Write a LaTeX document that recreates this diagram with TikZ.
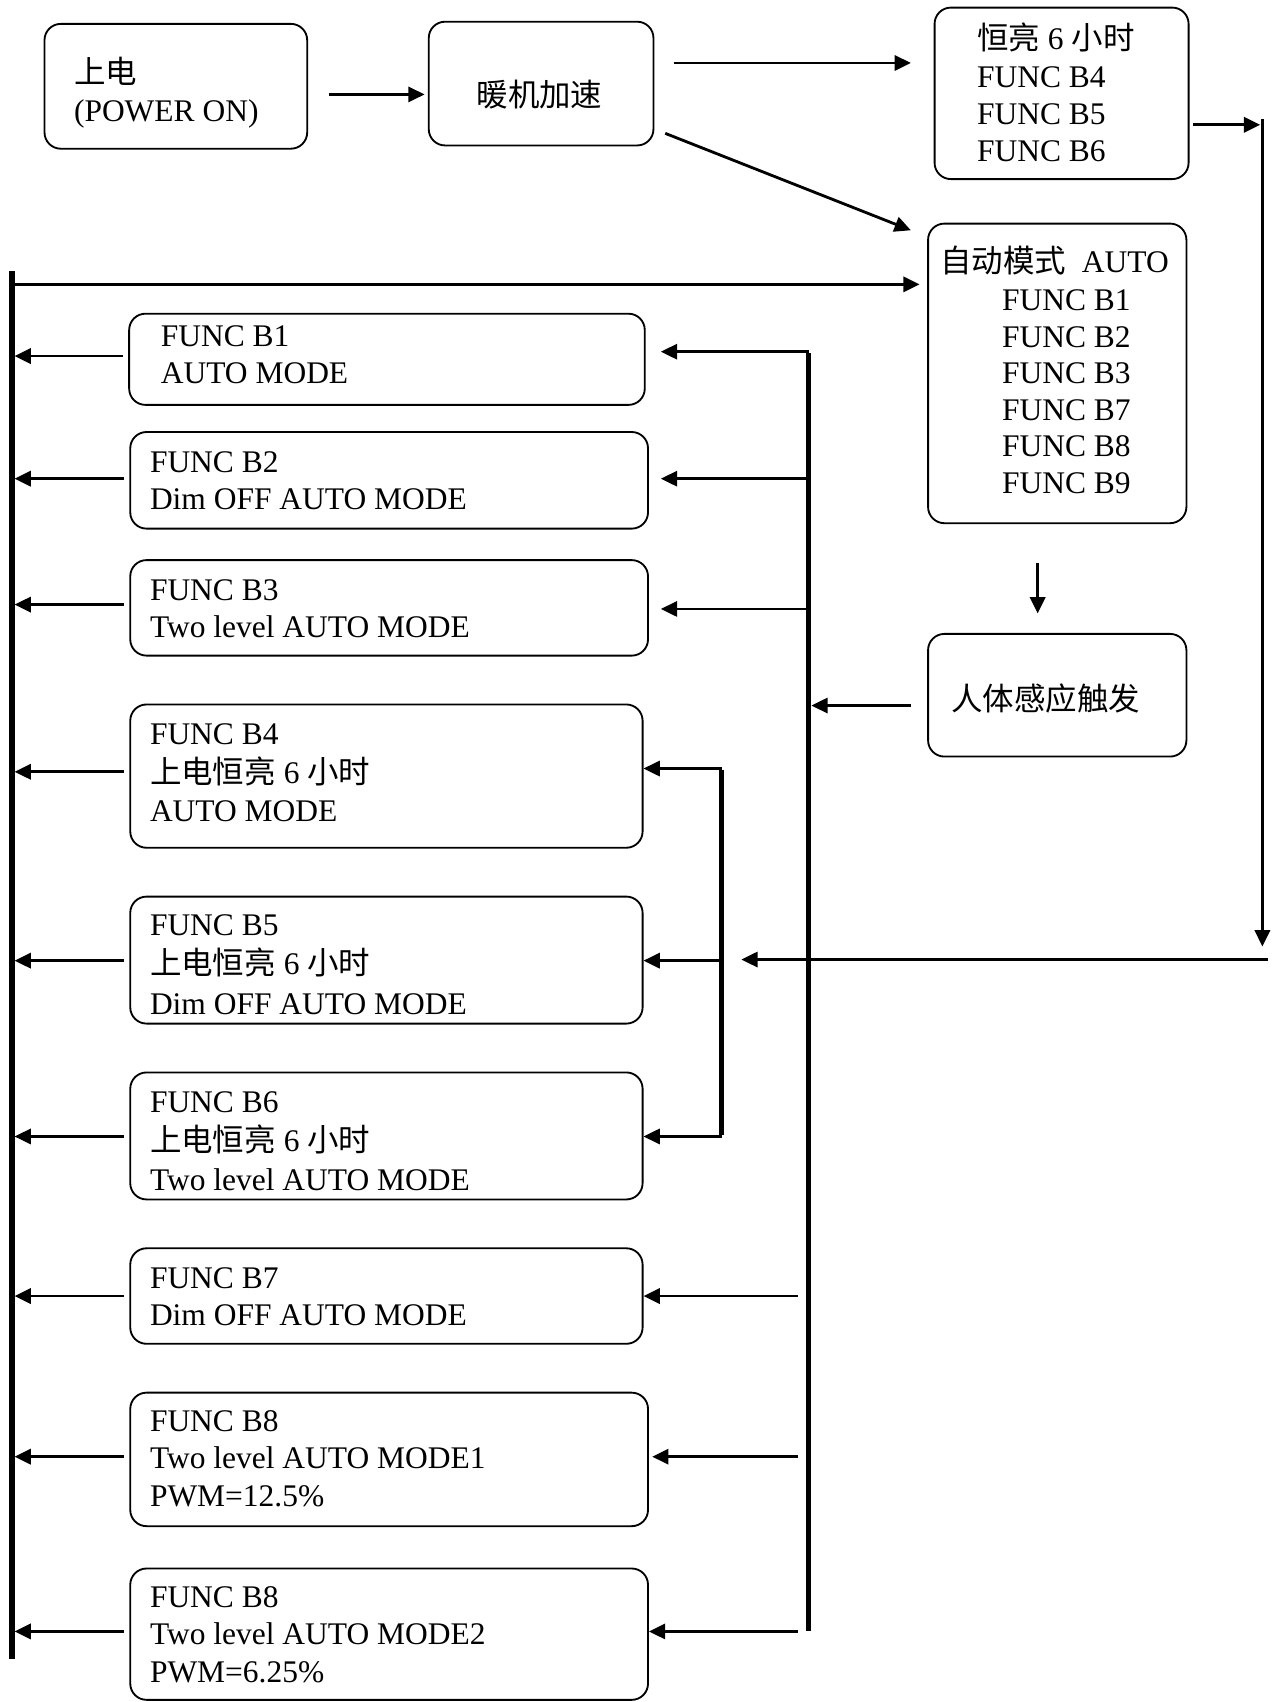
\documentclass[tikz,border=0pt]{standalone}
\usepackage{fontspec}
\setmainfont{Liberation Serif}
\newfontfamily\cjk{Noto Sans CJK SC}
\usetikzlibrary{arrows.meta}
\newcommand\mkbox[5]{\node[box, minimum width={(#4)-(#2)}, minimum height={(#5)-(#3)}] (#1) at ({((#2)+(#4))/2},{((#3)+(#5))/2}) {};}
\newcommand\txtline[4]{\node[txt] (#1) at (#2,#3) {#4};}
\begin{document}
\begin{tikzpicture}[x=1pt,y=-1pt,
  box/.style={draw, line width=1.7pt, rounded corners=15pt, inner sep=0pt},
  txt/.style={anchor=base west, inner sep=0pt, font=\fontsize{29}{34}\selectfont},
  arr/.style={line width=2.6pt, -{Triangle[length=15pt,width=14pt]}},
  bus/.style={line width=4.8pt}]
\useasboundingbox (0,0) rectangle (1182,1568);

% boxes
\mkbox{a}{41}{22}{283}{137}
\mkbox{b}{395}{20}{602}{134}
\mkbox{c}{861}{7}{1095}{165}
\mkbox{d}{855}{206}{1093}{482}
\mkbox{e}{855}{584}{1093}{697}
\mkbox{b1}{119}{289}{594}{373}
\mkbox{b2}{120}{398}{597}{487}
\mkbox{b3}{120}{516}{597}{604}
\mkbox{b4}{120}{649}{592}{781}
\mkbox{b5}{120}{826}{592}{943}
\mkbox{b6}{120}{988}{592}{1105}
\mkbox{b7}{120}{1150}{592}{1238}
\mkbox{b8}{120}{1283}{597}{1406}
\mkbox{b9}{120}{1445}{597}{1566}

% texts
\txtline{at1}{68}{77}{\cjk 上电}
\txtline{at2}{68}{112}{(POWER ON)}
\node[txt, anchor=base] (bt) at (497,98) {\cjk 暖机加速};
\txtline{ct1}{900}{46}{{\cjk 恒亮} 6 {\cjk 小时}}
\txtline{ct2}{900}{81}{FUNC B4}
\txtline{ct3}{900}{115}{FUNC B5}
\txtline{ct4}{900}{149}{FUNC B6}
\txtline{dt1}{866}{251}{{\cjk 自动模式}\ \ AUTO}
\txtline{dt2}{923}{286}{FUNC B1}
\txtline{dt3}{923}{320}{FUNC B2}
\txtline{dt4}{923}{353}{FUNC B3}
\txtline{dt5}{923}{387}{FUNC B7}
\txtline{dt6}{923}{421}{FUNC B8}
\txtline{dt7}{923}{455}{FUNC B9}
\txtline{et}{876}{655}{\cjk 人体感应触发}
\txtline{b1a}{148}{319}{FUNC B1}
\txtline{b1b}{148}{353}{AUTO MODE}
\txtline{b2a}{138}{435}{FUNC B2}
\txtline{b2b}{138}{469}{Dim OFF AUTO MODE}
\txtline{b3a}{138}{553}{FUNC B3}
\txtline{b3b}{138}{587}{Two level AUTO MODE}
\txtline{b4a}{138}{686}{FUNC B4}
\txtline{b4b}{138}{722}{{\cjk 上电恒亮} 6 {\cjk 小时}}
\txtline{b4c}{138}{757}{AUTO MODE}
\txtline{b5a}{138}{862}{FUNC B5}
\txtline{b5b}{138}{898}{{\cjk 上电恒亮} 6 {\cjk 小时}}
\txtline{b5c}{138}{935}{Dim OFF AUTO MODE}
\txtline{b6a}{138}{1025}{FUNC B6}
\txtline{b6b}{138}{1061}{{\cjk 上电恒亮} 6 {\cjk 小时}}
\txtline{b6c}{138}{1097}{Two level AUTO MODE}
\txtline{b7a}{138}{1187}{FUNC B7}
\txtline{b7b}{138}{1221}{Dim OFF AUTO MODE}
\txtline{b8a}{138}{1319}{FUNC B8}
\txtline{b8b}{138}{1353}{Two level AUTO MODE1}
\txtline{b8c}{138}{1388}{PWM=12.5\%}
\txtline{b9a}{138}{1481}{FUNC B8}
\txtline{b9b}{138}{1515}{Two level AUTO MODE2}
\txtline{b9c}{138}{1550}{PWM=6.25\%}

% top connectors
\coordinate (yab) at (0,87);
\draw[arr, shorten <=19pt, shorten >=3pt] (a.east |- yab) -- (b.west |- yab);
\coordinate (ybc) at (0,58);
\draw[arr, shorten <=18pt, shorten >=21pt] (b.east |- ybc) -- (c.west |- ybc);
\draw[arr] ([shift={(10,-12)}]b.south east) -- ([shift={(-15,7)}]d.north west);

% right vertical line
\coordinate (rvT) at (1163,110);
\coordinate (rvB) at (1163,872);
\coordinate (ycr) at (0,115);
\draw[arr, shorten <=3pt, shorten >=2pt] (c.east |- ycr) -- (rvT |- ycr);
\draw[arr] (rvT) -- (rvB);

% D -> E
\coordinate (xde) at (956,0);
\draw[arr, shorten <=36pt, shorten >=18pt] (d.south -| xde) -- (e.north -| xde);

% bus 2
\coordinate (bus2T) at (665,708);
\coordinate (bus2B) at (665,1047);
\draw[bus] ([yshift=-1.3]bus2T) -- ([yshift=1.3]bus2B);
\draw[arr] (bus2T) -- (b4.east |- bus2T);
\draw[arr] (bus2T |- 0,885) -- (b5.east |- 0,885);
\draw[arr] (bus2B) -- (b6.east |- bus2B);

% long arrow from right
\coordinate (rl) at (1168,884);
\draw[arr, shorten >=18pt] (rl) -- (rl -| bus2T);

% bus 1
\coordinate (bus1T) at (745,324);
\coordinate (bus1B) at (745,1503);
\draw[bus, line width=5pt] ([yshift=-1.3]bus1T) -- (bus1B);
\draw[arr, shorten >=14pt] (bus1T) -- (b1.east |- bus1T);
\draw[arr, shorten >=11pt] (bus1T |- 0,441) -- (b2.east |- 0,441);
\draw[arr, shorten >=11pt] (bus1T |- 0,561) -- (b3.east |- 0,561);
\draw[arr, shorten <=10pt] (bus1T |- 0,1194) -- (b7.east |- 0,1194);
\draw[arr, shorten <=10pt, shorten >=3pt] (bus1T |- 0,1342) -- (b8.east |- 0,1342);
\draw[arr, shorten <=10pt] (bus1B) -- (b9.east |- bus1B);
\draw[arr, shorten <=15pt, shorten >=2.5pt] (e.west |- 0,650) -- (bus1T |- 0,650);

% left bus
\coordinate (lbT) at (11,250);
\coordinate (lbB) at (11,1528);
\draw[bus] (lbT) -- (lbB);
\coordinate (ytop) at (0,262);
\draw[arr, line width=2.8pt, shorten >=7pt] (lbT |- ytop) -- (d.west |- ytop);
\foreach \n/\y in {b1/328, b2/441, b3/557, b4/711, b5/885, b6/1047, b7/1194, b8/1342, b9/1503}
  \draw[arr, shorten <=5pt, shorten >=2.4pt] (\n.west |- 0,\y) -- (lbT |- 0,\y);
\end{tikzpicture}
\end{document}
